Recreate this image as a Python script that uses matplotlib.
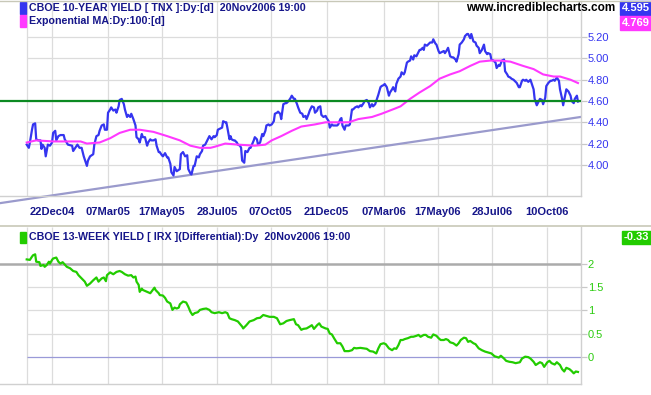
import numpy as np
import pandas as pd
import matplotlib
matplotlib.use("Agg")
import matplotlib.pyplot as plt
from matplotlib.patches import Rectangle
from matplotlib.lines import Line2D

plt.rcParams['font.family'] = ['Liberation Sans', 'DejaVu Sans']

# trading-day calendar of the chart
start_date = '2004-11-18'
end_date = '2006-11-20'

tick_dates = ['2004-12-22', '2005-03-07', '2005-05-17', '2005-07-28', '2005-10-07',
              '2005-12-21', '2006-03-07', '2006-05-17', '2006-07-28', '2006-10-10']
tick_labels = ['22Dec04', '07Mar05', '17May05', '28Jul05', '07Oct05',
               '21Dec05', '07Mar06', '17May06', '28Jul06', '10Oct06']

# CBOE 10-year yield (TNX), trading-day number -> yield
tnx_day = [0, 2, 3, 5, 6, 8, 9, 11, 13, 14, 15, 17, 18, 20, 22, 24, 25, 27, 28, 30,
           32, 35, 36, 39, 43, 44, 46, 48, 50, 52, 54, 57, 58, 60, 63, 64, 66, 68, 69, 71,
           73, 74, 76, 77, 79, 80, 82, 84, 85, 87, 88, 90, 92, 93, 95, 96, 98, 99, 101, 103,
           104, 106, 107, 109, 110, 112, 114, 115, 117, 118, 120, 122, 123, 125, 126, 128, 129, 131, 133, 134,
           136, 137, 139, 140, 142, 145, 146, 148, 150, 152, 153, 155, 156, 158, 159, 161, 163, 164, 166, 167,
           169, 170, 173, 175, 177, 178, 180, 181, 183, 185, 186, 188, 189, 190, 192, 193, 194, 196, 197, 199,
           200, 202, 203, 204, 206, 207, 209, 211, 212, 215, 216, 218, 219, 221, 223, 224, 226, 227, 229, 230,
           232, 234, 235, 237, 238, 240, 241, 243, 245, 246, 248, 250, 251, 253, 254, 256, 257, 259, 261, 262,
           264, 265, 267, 268, 270, 272, 273, 275, 276, 278, 279, 281, 283, 284, 286, 287, 289, 290, 292, 294,
           295, 297, 298, 299, 301, 302, 305, 306, 308, 309, 311, 313, 314, 316, 317, 319, 320, 322, 324, 325,
           327, 328, 330, 331, 333, 335, 336, 338, 339, 341, 343, 344, 346, 347, 349, 350, 352, 354, 355, 357,
           358, 360, 361, 363, 364, 366, 367, 369, 370, 372, 373, 375, 376, 377, 379, 380, 382, 384, 385, 387,
           388, 390, 391, 393, 395, 396, 398, 399, 401, 403, 404, 406, 407, 409, 410, 412, 414, 415, 417, 418,
           420, 421, 423, 425, 426, 428, 429, 431, 433, 434, 436, 437, 439, 440, 442, 444, 445, 447, 448, 450,
           452, 453, 455, 456, 458, 459, 461, 462, 464, 466, 467, 469, 470, 472, 473, 475, 477, 478, 480, 481,
           483, 485, 486, 488, 489, 491, 492, 494, 496, 497, 499, 500, 502, 504, 505, 507, 508, 510, 511, 513,
           515, 516, 518, 519, 521, 522]
tnx_val = [4.19, 4.16, 4.21, 4.33, 4.38, 4.39, 4.24, 4.23, 4.23, 4.15, 4.19, 4.16, 4.08, 4.19, 4.18, 4.21, 4.30, 4.32, 4.23, 4.27,
           4.28, 4.28, 4.24, 4.19, 4.18, 4.13, 4.16, 4.19, 4.16, 4.16, 4.08, 3.99, 4.04, 4.08, 4.10, 4.19, 4.27, 4.28, 4.32, 4.37,
           4.38, 4.33, 4.33, 4.49, 4.52, 4.54, 4.51, 4.52, 4.49, 4.55, 4.61, 4.62, 4.57, 4.52, 4.45, 4.47, 4.45, 4.48, 4.43, 4.37,
           4.26, 4.24, 4.21, 4.29, 4.26, 4.26, 4.18, 4.21, 4.24, 4.23, 4.23, 4.24, 4.18, 4.12, 4.12, 4.09, 4.08, 4.11, 4.07, 4.07,
           4.01, 3.93, 3.90, 3.98, 3.94, 3.96, 4.10, 4.12, 4.08, 4.09, 3.96, 3.92, 3.91, 3.99, 3.99, 4.08, 4.07, 4.10, 4.13, 4.18,
           4.19, 4.21, 4.27, 4.24, 4.27, 4.26, 4.28, 4.33, 4.34, 4.35, 4.41, 4.40, 4.40, 4.35, 4.24, 4.27, 4.24, 4.23, 4.23, 4.21,
           4.19, 4.18, 4.16, 4.04, 4.02, 4.13, 4.12, 4.16, 4.16, 4.23, 4.26, 4.24, 4.19, 4.21, 4.29, 4.27, 4.32, 4.37, 4.38, 4.37,
           4.38, 4.41, 4.48, 4.49, 4.50, 4.48, 4.43, 4.57, 4.58, 4.58, 4.60, 4.63, 4.65, 4.62, 4.62, 4.57, 4.54, 4.49, 4.48, 4.45,
           4.46, 4.43, 4.48, 4.51, 4.55, 4.54, 4.49, 4.51, 4.54, 4.55, 4.47, 4.45, 4.46, 4.44, 4.41, 4.35, 4.38, 4.37, 4.37, 4.37,
           4.38, 4.43, 4.44, 4.37, 4.33, 4.37, 4.37, 4.38, 4.52, 4.52, 4.54, 4.55, 4.54, 4.56, 4.55, 4.58, 4.60, 4.61, 4.58, 4.54,
           4.57, 4.55, 4.57, 4.60, 4.66, 4.73, 4.74, 4.75, 4.76, 4.73, 4.65, 4.68, 4.71, 4.73, 4.69, 4.76, 4.81, 4.83, 4.87, 4.85,
           4.87, 4.96, 4.97, 4.98, 5.02, 4.99, 5.03, 5.02, 5.04, 5.08, 5.08, 5.10, 5.08, 5.13, 5.12, 5.13, 5.15, 5.15, 5.18, 5.14,
           5.13, 5.07, 5.05, 5.06, 5.07, 5.05, 5.08, 5.10, 5.02, 5.01, 5.01, 4.99, 4.97, 5.04, 5.13, 5.15, 5.18, 5.21, 5.23, 5.23,
           5.19, 5.23, 5.16, 5.15, 5.12, 5.10, 5.05, 5.08, 5.13, 5.07, 5.04, 5.05, 5.04, 4.99, 4.98, 4.96, 4.91, 4.94, 4.93, 4.98,
           4.99, 4.88, 4.85, 4.83, 4.82, 4.81, 4.80, 4.79, 4.77, 4.73, 4.73, 4.79, 4.80, 4.79, 4.80, 4.78, 4.80, 4.77, 4.71, 4.62,
           4.56, 4.60, 4.62, 4.61, 4.57, 4.63, 4.74, 4.77, 4.79, 4.79, 4.80, 4.79, 4.82, 4.79, 4.71, 4.62, 4.56, 4.66, 4.71, 4.69,
           4.65, 4.60, 4.58, 4.62, 4.65, 4.595]

# 100-day exponential moving average
ema_day = [0, 9, 25, 41, 51, 57, 69, 79, 88, 98, 107, 120, 133, 145, 155, 164, 174, 178, 188, 200,
           216, 226, 232, 241, 251, 260, 273, 283, 295, 305, 314, 327, 336, 349, 354, 363, 372, 382, 391, 401,
           410, 420, 429, 439, 448, 458, 470, 480, 489, 499, 505, 515, 522]
ema_val = [4.21, 4.23, 4.22, 4.22, 4.22, 4.20, 4.21, 4.25, 4.30, 4.33, 4.33, 4.31, 4.27, 4.23, 4.18, 4.16, 4.16, 4.17, 4.20, 4.19,
           4.18, 4.19, 4.23, 4.27, 4.32, 4.36, 4.38, 4.40, 4.40, 4.40, 4.43, 4.45, 4.48, 4.53, 4.55, 4.62, 4.68, 4.74, 4.81, 4.85,
           4.88, 4.93, 4.97, 4.98, 4.98, 4.97, 4.93, 4.90, 4.85, 4.83, 4.83, 4.80, 4.769]

# CBOE 13-week yield (IRX) differential
irx_day = [0, 3, 5, 6, 8, 9, 12, 13, 16, 17, 19, 21, 22, 24, 25, 28, 30, 32, 34, 36,
           38, 41, 44, 47, 49, 52, 55, 57, 60, 63, 66, 68, 71, 73, 75, 76, 79, 82, 85, 88,
           90, 93, 96, 99, 101, 103, 104, 106, 107, 109, 110, 114, 117, 118, 121, 122, 125, 126, 129, 131,
           133, 136, 138, 140, 142, 144, 145, 148, 151, 153, 155, 157, 159, 162, 164, 167, 170, 173, 175, 178,
           182, 185, 188, 190, 192, 194, 197, 200, 204, 205, 208, 211, 215, 218, 221, 224, 227, 230, 234, 237,
           240, 243, 246, 249, 253, 255, 257, 260, 262, 265, 268, 270, 272, 275, 277, 279, 283, 285, 287, 289,
           291, 294, 297, 299, 301, 305, 308, 310, 312, 316, 319, 322, 325, 328, 331, 333, 335, 338, 340, 343,
           346, 348, 350, 352, 354, 356, 358, 361, 364, 366, 369, 371, 373, 376, 378, 380, 383, 385, 388, 390,
           392, 395, 397, 399, 401, 404, 407, 409, 411, 414, 416, 418, 420, 423, 425, 428, 431, 434, 437, 440,
           443, 447, 449, 452, 454, 457, 460, 463, 467, 469, 472, 475, 477, 480, 482, 486, 488, 490, 493, 495,
           497, 500, 502, 505, 507, 509, 511, 514, 516, 518, 520, 522]
irx_val = [2.10, 2.09, 2.16, 2.19, 2.21, 2.05, 2.04, 1.96, 1.98, 1.94, 1.98, 2.05, 2.01, 2.09, 2.12, 2.14, 2.05, 2.01, 2.04, 1.99,
           1.94, 1.91, 1.85, 1.83, 1.76, 1.69, 1.62, 1.53, 1.58, 1.65, 1.71, 1.62, 1.69, 1.71, 1.63, 1.76, 1.82, 1.78, 1.83, 1.85,
           1.83, 1.78, 1.75, 1.76, 1.71, 1.73, 1.62, 1.55, 1.40, 1.47, 1.44, 1.40, 1.37, 1.40, 1.49, 1.44, 1.37, 1.33, 1.32, 1.27,
           1.19, 1.15, 1.01, 1.06, 1.04, 1.06, 1.13, 1.19, 1.17, 1.08, 0.97, 0.90, 0.94, 0.96, 1.01, 1.03, 1.04, 1.01, 0.96, 0.94,
           0.96, 0.94, 0.96, 0.94, 0.83, 0.81, 0.79, 0.76, 0.65, 0.61, 0.68, 0.76, 0.79, 0.83, 0.84, 0.90, 0.88, 0.86, 0.86, 0.83,
           0.70, 0.72, 0.77, 0.79, 0.81, 0.70, 0.68, 0.58, 0.60, 0.61, 0.65, 0.68, 0.60, 0.68, 0.72, 0.65, 0.61, 0.60, 0.50, 0.48,
           0.40, 0.29, 0.29, 0.22, 0.12, 0.12, 0.14, 0.19, 0.18, 0.19, 0.18, 0.17, 0.12, 0.11, 0.07, 0.18, 0.27, 0.29, 0.27, 0.18,
           0.14, 0.18, 0.17, 0.25, 0.36, 0.36, 0.38, 0.40, 0.43, 0.43, 0.45, 0.47, 0.43, 0.47, 0.47, 0.43, 0.41, 0.48, 0.45, 0.40,
           0.36, 0.36, 0.38, 0.36, 0.31, 0.29, 0.24, 0.29, 0.36, 0.41, 0.40, 0.32, 0.34, 0.29, 0.27, 0.18, 0.14, 0.11, 0.09, 0.07,
           0.01, -0.02, 0.02, -0.04, -0.09, -0.11, -0.12, -0.14, -0.12, -0.04, 0.00, -0.01, -0.04, -0.11, -0.18, -0.12, -0.14, -0.22, -0.12, -0.09,
           -0.14, -0.17, -0.12, -0.18, -0.27, -0.32, -0.24, -0.27, -0.31, -0.36, -0.32, -0.33]

# drawn trend lines
support_level = 4.60
trend_day = [-25.3, 524.6]
trend_val = [3.64, 4.45]
irx_ref_high = 2.0
irx_ref_zero = 0.0

tnx_ticks = [4.00, 4.20, 4.40, 4.60, 4.80, 5.00, 5.20]
irx_ticks = [0, 0.5, 1, 1.5, 2]
irx_tick_labels = ['0', '0.5', '1', '1.5', '2']

tnx_last, ema_last, irx_last = '4.595', '4.769', '-0.33'

# colours
BLUE = '#3535f0'
MAGENTA = '#ff38ff'
GREEN_LINE = '#22cc00'
SUPPORT = '#0c8a22'
TREND = '#9a9acc'
GRID = '#dcdcdc'
NAVY = '#16168a'

W, H = 651, 395
fig = plt.figure(figsize=(W / 100, H / 100), dpi=100)
fig.patch.set_facecolor('white')


def fx(px):
    return px / W


def fy(py):
    return 1 - py / H


bdays = pd.bdate_range(start_date, end_date)
tick_pos = bdays.get_indexer(pd.to_datetime(tick_dates))
x_left, x_right = -25.3, 524.6

ax1 = fig.add_axes([0, fy(195.7), fx(580.7), fy(1) - fy(195.7)])
ax2 = fig.add_axes([0, fy(384), fx(580.7), fy(227) - fy(384)])

for ax, lo, hi in ((ax1, 3.71, 5.54), (ax2, -0.59, 2.80)):
    ax.set_xlim(x_left, x_right)
    ax.set_ylim(lo, hi)
    ax.set_facecolor('white')
    for s in ('left', 'top'):
        ax.spines[s].set_visible(False)
    for s in ('right', 'bottom'):
        ax.spines[s].set_color('#d0d0d0')
        ax.spines[s].set_linewidth(1)
    ax.vlines([0] + list(tick_pos), lo, hi, color=GRID, lw=0.9, zorder=0)
    ax.yaxis.tick_right()

# upper panel
ax1.hlines(tnx_ticks, 0, x_right, color=GRID, lw=0.9, zorder=0)
ax1.plot(trend_day, trend_val, color=TREND, lw=1.6, zorder=2, clip_on=False)
ax1.plot(tnx_day, tnx_val, color=BLUE, lw=1.6, zorder=3)
ax1.plot(ema_day, ema_val, color=MAGENTA, lw=1.5, zorder=4)
ax1.axhline(support_level, color=SUPPORT, lw=1.6, zorder=5)
ax1.set_yticks(tnx_ticks)
ax1.set_yticklabels([f'{v:.2f}' for v in tnx_ticks])
ax1.tick_params(axis='y', colors='#c8c8c8', labelcolor=BLUE, length=4, width=0.9,
                labelsize=8, pad=1)
ax1.set_xticks(tick_pos)
ax1.set_xticklabels(tick_labels)
ax1.tick_params(axis='x', length=0, pad=8, labelsize=8, labelcolor=NAVY)
for lbl in ax1.get_xticklabels():
    lbl.set_fontweight('bold')

# lower panel
ax2.hlines(irx_ticks[1:-1], 0, x_right, color=GRID, lw=0.9, zorder=0)
ax2.axhline(irx_ref_high, color='#ababab', lw=1.8, zorder=1)
ax2.hlines(irx_ref_zero, 0, x_right, color='#9a9ad8', lw=0.9, zorder=1)
ax2.plot(irx_day, irx_val, color=GREEN_LINE, lw=1.6, zorder=3)
ax2.set_yticks(irx_ticks)
ax2.set_yticklabels(irx_tick_labels)
ax2.tick_params(axis='y', colors='#c8c8c8', labelcolor='#2ccc10', length=4, width=0.9,
                labelsize=8, pad=1)
ax2.set_xticks([])

# panel separators
fig.add_artist(Line2D([0, 1], [fy(0.5), fy(0.5)], color='#c8c8b8', lw=1))
fig.add_artist(Line2D([0, 1], [fy(225.5), fy(225.5)], color='#c8c8b8', lw=1.2))


def legend_row(px, py, colour, text):
    fig.add_artist(Rectangle((fx(px), fy(py + 6)), fx(6) - fx(0), fy(0) - fy(11),
                             transform=fig.transFigure, color=colour))
    fig.text(fx(px + 9), fy(py + 0.5), text, fontsize=7.7, fontweight='bold',
             color=NAVY, va='center', ha='left')


def value_box(px, py, w, h, colour, text):
    fig.add_artist(Rectangle((fx(px), fy(py + h)), fx(w) - fx(0), fy(0) - fy(h),
                             transform=fig.transFigure, color=colour))
    fig.text(fx(px + w / 2), fy(py + h / 2), text, fontsize=8, fontweight='bold',
             color='white', va='center', ha='center')


legend_row(20, 7.5, BLUE, 'CBOE 10-YEAR YIELD [ TNX ]:Dy:[d]  20Nov2006 19:00')
legend_row(20, 20.5, MAGENTA, 'Exponential MA:Dy:100:[d]')
legend_row(20, 237, '#22cc00', 'CBOE 13-WEEK YIELD [ IRX ](Differential):Dy  20Nov2006 19:00')

fig.text(fx(615), fy(8), 'www.incrediblecharts.com', fontsize=8.5, fontweight='bold',
         color='black', va='center', ha='right')
value_box(620, 1, 31, 14, BLUE, tnx_last)
value_box(620, 16, 31, 14, MAGENTA, ema_last)
value_box(622, 231, 29, 13, '#22cc00', irx_last)

fig.savefig('out.png', dpi=100)
